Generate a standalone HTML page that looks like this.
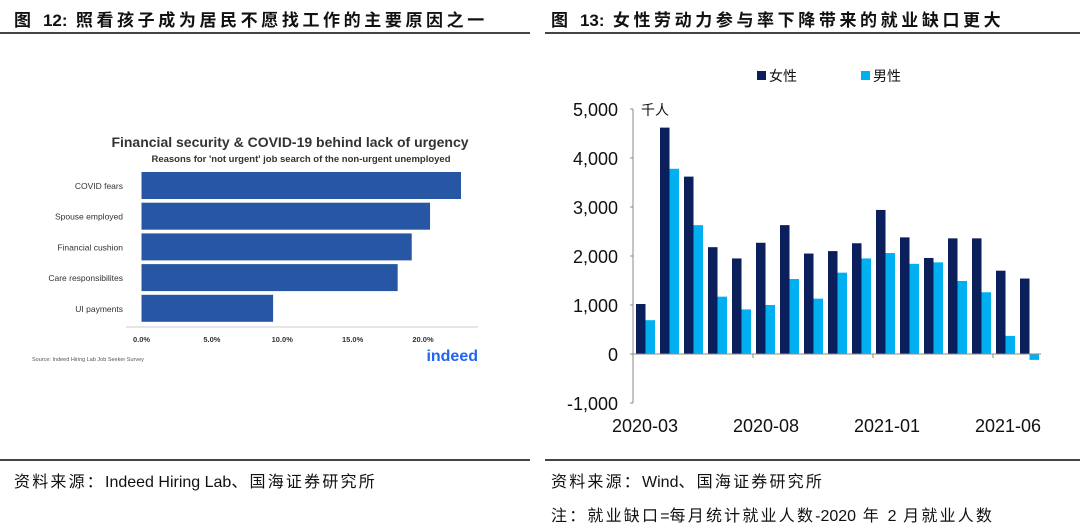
<!DOCTYPE html>
<html><head><meta charset="utf-8">
<style>
body{margin:0;width:1080px;height:531px;background:#fff;overflow:hidden;position:relative;font-family:"Liberation Sans","Noto Sans CJK SC",sans-serif;}
.abs{position:absolute;white-space:nowrap}
.hd{font-size:17px;font-weight:bold;color:#111;top:6px;letter-spacing:3.6px}
.rule{position:absolute;height:2px;background:#444}
.ft{font-size:16px;color:#111;letter-spacing:2.2px}
.l{letter-spacing:0}
</style></head><body>
<div class="abs hd" style="left:14px">图 <span class="l">12:</span> 照看孩子成为居民不愿找工作的主要原因之一</div>
<div class="abs hd" style="left:551px">图 <span class="l">13:</span> 女性劳动力参与率下降带来的就业缺口更大</div>
<div class="rule" style="left:0;width:530px;top:32px"></div>
<div class="rule" style="left:545px;width:535px;top:32px"></div>
<div class="rule" style="left:0;width:530px;top:459px"></div>
<div class="rule" style="left:545px;width:535px;top:459px"></div>
<div class="abs ft" style="left:14px;top:468px">资料来源：<span class="l">Indeed Hiring Lab</span>、国海证券研究所</div>
<div class="abs ft" style="left:551px;top:468px">资料来源：<span class="l">Wind</span>、国海证券研究所</div>
<div class="abs ft" style="left:551px;top:502px">注：就业缺口<span class="l">=</span>每月统计就业人数<span class="l">-2020</span> 年 <span class="l">2</span> 月就业人数</div>

<svg id="left" class="abs" style="left:0;top:0" width="540" height="460"></svg>
<svg id="right" class="abs" style="left:540px;top:0" width="540" height="460"></svg>

<script>
const lCats=["COVID fears","Spouse employed","Financial cushion","Care responsibilites","UI payments"];
const lVals=[22.7,20.5,19.2,18.2,9.35];
const lTicks=[0,5,10,15,20];

const rCats=["2020-03","2020-04","2020-05","2020-06","2020-07","2020-08","2020-09","2020-10","2020-11","2020-12","2021-01","2021-02","2021-03","2021-04","2021-05","2021-06","2021-07"];
const rWomen=[1020,4620,3620,2180,1950,2270,2630,2050,2100,2260,2940,2380,1960,2360,2360,1700,1540];
const rMen=[690,3780,2630,1170,910,1000,1530,1130,1660,1950,2060,1840,1870,1490,1260,370,-120];
const rTicks=[-1000,0,1000,2000,3000,4000,5000];
const rXLabels=["2020-03","2020-08","2021-01","2021-06"];

const NS="http://www.w3.org/2000/svg";
function mk(p,tag,at,txt){const e=document.createElementNS(NS,tag);for(const k in at)e.setAttribute(k,at[k]);if(txt!=null)e.textContent=txt;p.appendChild(e);return e;}

// left chart
const L=document.getElementById('left');
const lx=v=>141.5+v*(423-141.5)/20;
let t=mk(L,'text',{x:290,y:147,'text-anchor':'middle','font-size':14,'font-weight':'bold',fill:'#333'},"Financial security & COVID-19 behind lack of urgency");

t=mk(L,'text',{x:301,y:162,'text-anchor':'middle','font-size':9.5,'font-weight':'bold',fill:'#333'},"Reasons for 'not urgent' job search of the non-urgent unemployed");

lCats.forEach((c,i)=>{
  const y=172+i*30.7;
  const r=mk(L,'rect',{x:lx(0),y:y,width:lx(lVals[i])-lx(0),height:27,fill:'#2757a4'});
  
  
  const tx=mk(L,'text',{x:123,y:y+17,'text-anchor':'end','font-size':8.5,fill:'#333'},c);
  
  
});
mk(L,'line',{x1:126,x2:478,y1:327,y2:327,stroke:'#ccc','stroke-width':1});
lTicks.forEach(v=>{
  const tx=mk(L,'text',{x:lx(v),y:342,'text-anchor':'middle','font-size':7.5,'font-weight':'bold',fill:'#333'},v.toFixed(1)+'%');
  
  
});
t=mk(L,'text',{x:32,y:361,'font-size':5.5,fill:'#555'},"Source: Indeed Hiring Lab Job Seeker Survey");

t=mk(L,'text',{x:478,y:361,'text-anchor':'end','font-size':16,'font-weight':'bold',fill:'#2164f3'},"indeed");


// right chart (offset 540)
const R=document.getElementById('right');
const x0=633-540, step=24;
const ry=v=>354-v*0.049;
mk(R,'line',{x1:x0,x2:x0,y1:ry(5000),y2:ry(-1000),stroke:'#888','stroke-width':1});
rTicks.forEach(v=>{
  mk(R,'line',{x1:x0-3,x2:x0,y1:ry(v),y2:ry(v),stroke:'#888','stroke-width':1});
  const tx=mk(R,'text',{x:x0-15,y:ry(v)+7,'text-anchor':'end','font-size':18,fill:'#111'},v.toLocaleString('en-US'));
  
  
});
t=mk(R,'text',{x:x0+8,y:ry(5000)+6,'font-size':14,fill:'#111'},"千人");

rCats.forEach((c,i)=>{
  const bx=x0+i*step+3;
  let r=mk(R,'rect',{x:bx,y:Math.min(ry(rWomen[i]),ry(0)),width:9.5,height:Math.abs(ry(rWomen[i])-ry(0)),fill:'#0a1f5c'});
  
  
  r=mk(R,'rect',{x:bx+9.5,y:Math.min(ry(rMen[i]),ry(0)),width:9.5,height:Math.abs(ry(rMen[i])-ry(0)),fill:'#00b0f0'});
  
  
});
mk(R,'line',{x1:x0,x2:x0+17*step,y1:ry(0),y2:ry(0),stroke:'#888','stroke-width':1});
rXLabels.forEach(lab=>{
  const i=rCats.indexOf(lab);
  const cx=x0+(i+0.5)*step;
  if(i>0) mk(R,'line',{x1:x0+i*step,x2:x0+i*step,y1:ry(0),y2:ry(0)+4,stroke:'#888','stroke-width':1});
  const tx=mk(R,'text',{x:cx+i*0.2,y:432,'text-anchor':'middle','font-size':18,fill:'#111'},lab);
  
  
});
// legend
let g=mk(R,'g',{});

mk(g,'rect',{x:217,y:71,width:9,height:9,fill:'#0a1f5c'});
mk(g,'text',{x:229,y:81,'font-size':14,fill:'#111'},"女性");
g=mk(R,'g',{});

mk(g,'rect',{x:321,y:71,width:9,height:9,fill:'#00b0f0'});
mk(g,'text',{x:333,y:81,'font-size':14,fill:'#111'},"男性");
</script>
</body></html>
